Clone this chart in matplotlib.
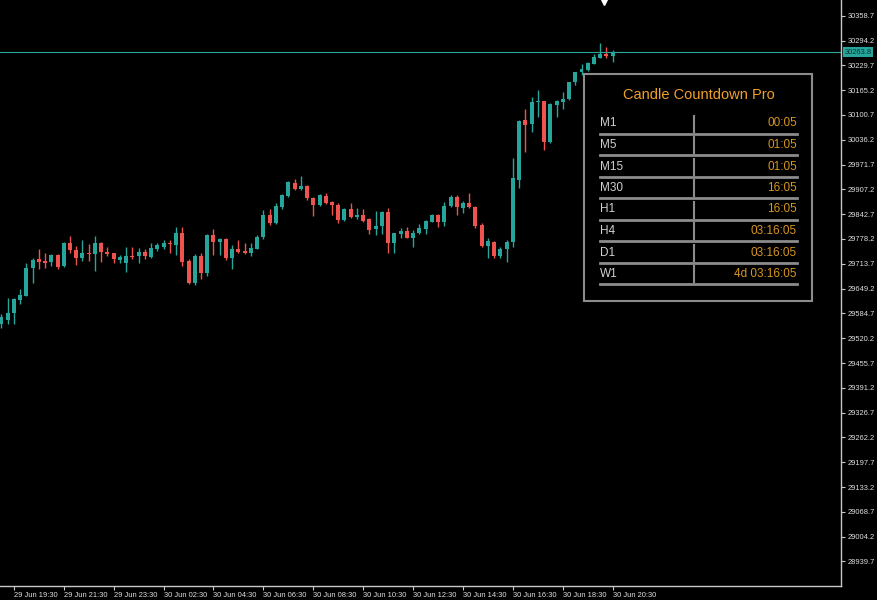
import numpy as np
import matplotlib
matplotlib.use('Agg')
import matplotlib.pyplot as plt
from matplotlib.patches import Rectangle

# M15 candles, 29 Jun 19:00 .. 30 Jun 20:30 (bar 2 = 29 Jun 19:30)
opens = [29557.1, 29567.5, 29586.5, 29620.3, 29630.7, 29702.7, 29726.1, 29721.7, 29718.3, 29736.5,
         29707.9, 29768.5, 29749.5, 29728.7, 29742.5, 29739.9, 29768.5, 29745.1, 29740.9, 29724.3,
         29716.5, 29733.9, 29733.9, 29745.1, 29732.1, 29752.1, 29758.1, 29768.5, 29763.3, 29792.9,
         29721.7, 29662.9, 29733.9, 29688.9, 29788.5, 29770.3, 29778.1, 29727.9, 29752.1, 29747.7,
         29742.5, 29752.9, 29782.5, 29840.5, 29818.9, 29862.1, 29889.9, 29924.5, 29908.1, 29915.9,
         29883.9, 29866.5, 29890.7, 29874.3, 29866.5, 29827.5, 29856.1, 29834.5, 29840.5, 29829.3,
         29804.1, 29811.9, 29849.1, 29768.5, 29790.3, 29798.9, 29781.5, 29792.9, 29804.1, 29823.1,
         29840.5, 29823.1, 29863.9, 29888.1, 29857.9, 29872.5, 29861.3, 29814.5, 29760.7, 29771.1,
         29733.9, 29751.3, 29769.5, 29931.5, 30086.7, 30076.3, 30133.5, 30136.9, 30029.5, 30126.5,
         30135.1, 30141.3, 30185.5, 30211.5, 30218.3, 30233.9, 30249.5, 30258.3, 30254.7]
highs = [29583.1, 29625.5, 29624.7, 29648.1, 29715.7, 29728.7, 29752.1, 29742.5, 29739.1, 29739.1,
         29771.1, 29785.9, 29760.7, 29775.5, 29765.1, 29785.9, 29770.0, 29756.5, 29742.0, 29735.7,
         29756.5, 29756.5, 29753.9, 29751.3, 29768.5, 29766.9, 29775.5, 29775.5, 29810.1, 29810.1,
         29726.9, 29739.1, 29742.5, 29790.0, 29803.3, 29781.5, 29781.5, 29762.5, 29775.5, 29768.5,
         29768.5, 29788.5, 29853.5, 29855.3, 29872.5, 29895.0, 29928.0, 29933.3, 29941.9, 29918.5,
         29886.5, 29895.1, 29896.9, 29877.7, 29872.5, 29857.9, 29872.5, 29857.9, 29855.3, 29831.9,
         29850.9, 29850.9, 29857.9, 29794.5, 29807.5, 29810.1, 29801.5, 29816.3, 29827.5, 29842.3,
         29842.3, 29873.5, 29892.5, 29892.5, 29876.9, 29896.9, 29863.9, 29820.5, 29779.9, 29772.9,
         29756.5, 29775.5, 29987.9, 30087.0, 30116.1, 30148.1, 30165.5, 30138.0, 30130.9, 30139.5,
         30161.1, 30187.1, 30213.0, 30232.3, 30237.5, 30258.3, 30286.9, 30276.5, 30269.5]
lows = [29546.7, 29557.1, 29557.1, 29609.1, 29629.9, 29663.7, 29700.1, 29703.5, 29707.9, 29700.9,
        29705.3, 29742.5, 29710.5, 29721.7, 29721.7, 29695.7, 29717.5, 29734.7, 29716.5, 29714.9,
        29693.1, 29725.3, 29714.9, 29726.9, 29729.5, 29747.7, 29751.3, 29740.9, 29737.3, 29708.7,
        29661.1, 29658.5, 29673.3, 29681.9, 29736.5, 29736.5, 29723.5, 29699.3, 29740.9, 29739.1,
        29733.9, 29751.3, 29778.1, 29814.5, 29816.3, 29855.3, 29886.5, 29905.5, 29905.5, 29879.5,
        29838.7, 29864.7, 29869.1, 29840.5, 29820.5, 29825.7, 29831.9, 29830.1, 29823.1, 29791.1,
        29788.5, 29791.1, 29740.9, 29742.5, 29779.9, 29779.9, 29758.1, 29791.1, 29791.1, 29821.5,
        29810.1, 29812.7, 29862.1, 29840.5, 29844.9, 29859.5, 29807.5, 29758.1, 29729.5, 29729.5,
        29729.5, 29719.1, 29757.3, 29911.5, 30004.3, 30055.5, 30096.1, 30010.3, 30027.7, 30096.1,
        30116.1, 30139.5, 30178.5, 30204.5, 30214.9, 30232.3, 30247.9, 30249.5, 30239.1]
closes = [29575.3, 29586.5, 29622.1, 29633.3, 29702.7, 29724.3, 29718.3, 29716.5, 29736.5, 29705.3,
          29768.5, 29749.5, 29729.5, 29742.5, 29738.3, 29768.5, 29745.1, 29739.1, 29725.3, 29730.5,
          29733.9, 29730.5, 29745.1, 29733.9, 29755.5, 29761.7, 29768.5, 29765.1, 29792.9, 29719.1,
          29662.9, 29733.9, 29688.9, 29788.5, 29770.3, 29778.1, 29727.9, 29752.1, 29743.5, 29742.5,
          29754.7, 29784.1, 29840.5, 29818.9, 29863.9, 29892.5, 29925.5, 29908.1, 29916.7, 29883.9,
          29866.5, 29892.5, 29872.5, 29866.5, 29827.5, 29856.1, 29834.5, 29840.5, 29825.7, 29801.5,
          29811.9, 29849.1, 29768.5, 29792.9, 29798.9, 29781.5, 29794.5, 29805.9, 29824.9, 29840.5,
          29823.1, 29863.9, 29888.1, 29862.1, 29872.5, 29861.3, 29811.9, 29760.7, 29772.9, 29733.9,
          29751.3, 29771.1, 29935.9, 30084.9, 30074.5, 30135.1, 30136.9, 30029.5, 30128.3, 30136.9,
          30142.1, 30185.5, 30211.5, 30220.1, 30235.7, 30251.3, 30259.1, 30254.7, 30263.8]

bid = 30263.8
time_labels = ['29 Jun 19:30', '29 Jun 21:30', '29 Jun 23:30', '30 Jun 02:30', '30 Jun 04:30',
               '30 Jun 06:30', '30 Jun 08:30', '30 Jun 10:30', '30 Jun 12:30', '30 Jun 14:30',
               '30 Jun 16:30', '30 Jun 18:30', '30 Jun 20:30']
price_ticks = [28939.7 + 64.5 * i for i in range(23)]

timeframes = ['M1', 'M5', 'M15', 'M30', 'H1', 'H4', 'D1', 'W1']
countdowns = ['00:05', '01:05', '01:05', '16:05', '16:05', '03:16:05', '03:16:05', '4d 03:16:05']

bull = '#26a69a'
bear = '#ef5350'
axcol = '#c8c8c8'

plt.rcParams['font.family'] = ['Liberation Sans Narrow', 'Liberation Sans', 'DejaVu Sans']

fig = plt.figure(figsize=(8.78, 6), dpi=100, facecolor='black')
ax = fig.add_axes([0, 14 / 600, 841 / 878, 586 / 600], facecolor='black')

o = np.array(opens); h = np.array(highs); l = np.array(lows); c = np.array(closes)
x = np.arange(len(o))
up = c >= o
cols = np.where(up, bull, bear)

ax.vlines(x, l, h, colors=cols, linewidth=1)
body_lo = np.minimum(o, c)
body_h = np.maximum(np.abs(c - o), 1.5)
ax.bar(x, body_h, bottom=body_lo, width=0.64, color=cols, linewidth=0)

ax.axhline(bid, color=bull, linewidth=0.8)

ax.set_xlim(-0.22, 134.6)
ax.set_ylim(28875.9, 30399.5)

for s in ['top', 'left']:
    ax.spines[s].set_visible(False)
for s in ['right', 'bottom']:
    ax.spines[s].set_color(axcol)
    ax.spines[s].set_linewidth(1)

ax.yaxis.tick_right()
ax.set_yticks(price_ticks)
ax.set_yticklabels(['%.1f' % p for p in price_ticks])
ax.set_xticks(2 + 8 * np.arange(len(time_labels)))
ax.set_xticklabels(time_labels)
for lbl in ax.get_xticklabels():
    lbl.set_ha('left')
ax.tick_params(axis='both', colors=axcol, labelcolor='#e0e0e0', labelsize=5.4,
               length=3, width=0.8, direction='out')
ax.tick_params(axis='x', pad=1.5)
ax.tick_params(axis='y', pad=2)

ax.text(1.004, bid, '%.1f' % bid, transform=ax.get_yaxis_transform(), fontsize=5.4,
        color='#0b2e2a', va='center', ha='left',
        bbox=dict(facecolor=bull, edgecolor='none', boxstyle='square,pad=0.2'))

# overlay in pixel coordinates for the countdown panel
ov = fig.add_axes([0, 0, 1, 1], facecolor='none')
ov.set_xlim(0, 878)
ov.set_ylim(600, 0)
ov.axis('off')

ov.plot([604], [1.5], marker='v', color='white', markersize=5, linestyle='none')

ov.add_patch(Rectangle((584, 73.5), 228.5, 227, facecolor='black', edgecolor='#8c8c8c', linewidth=1.5))
ov.text(699, 95, 'Candle Countdown Pro', color='#f0a028', fontsize=10.5, ha='center', va='center',
        family=['Liberation Sans', 'DejaVu Sans'])
row0 = 123.5
step = 21.5
for i, (tf, cd) in enumerate(zip(timeframes, countdowns)):
    yy = row0 + i * step
    ov.text(600, yy, tf, color='#d0d0d0', fontsize=8.5, ha='left', va='center',
            family=['Liberation Sans', 'DejaVu Sans'])
    ov.text(797, yy, cd, color='#d89620', fontsize=8.5, ha='right', va='center',
            family=['Liberation Sans', 'DejaVu Sans'])
    ov.plot([694.3, 694.3], [yy - 8, yy + 8], color='#8c8c8c', linewidth=1.5)
    ov.plot([600, 797], [yy + 10, yy + 10], color='#8c8c8c', linewidth=2)

fig.savefig('out.png', dpi=100, facecolor='black')
